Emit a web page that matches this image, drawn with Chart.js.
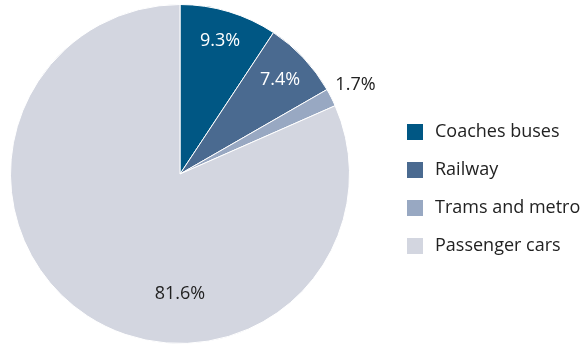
<!DOCTYPE html>
<html>
<head>
<meta charset="utf-8">
<script src="https://cdn.jsdelivr.net/npm/chart.js@4"></script>
<style>
  html, body { margin: 0; padding: 0; background: #fff; }
  #wrap { width: 585px; height: 344px; position: relative; }
</style>
</head>
<body>
<div id="wrap"><canvas id="pie"></canvas></div>
<script>
// dados
const categorias = ['Coaches buses', 'Railway', 'Trams and metro', 'Passenger cars'];
const valores = [9.3, 7.4, 1.7, 81.6];
const cores = ['#005784', '#4a6a90', '#98a8c2', '#d3d6e0'];
const corTexto = ['#ffffff', '#ffffff', '#222222', '#222222'];

// posição dos rótulos: fração do raio e ângulo opcional (graus a partir do topo)
const rotuloRaio = [0.82, 0.81, 1.16, 0.71];
const rotuloAngulo = [null, null, null, 180];

const FONTE = '"Open Sans", sans-serif';

const rotulos = {
  id: 'rotulos',
  afterDatasetsDraw(chart) {
    const { ctx } = chart;
    const meta = chart.getDatasetMeta(0);
    ctx.save();
    ctx.font = '18px ' + FONTE;
    ctx.textAlign = 'center';
    ctx.textBaseline = 'middle';
    meta.data.forEach((arc, i) => {
      const p = arc.getProps(['x', 'y', 'startAngle', 'endAngle', 'outerRadius'], true);
      let a = (p.startAngle + p.endAngle) / 2;
      if (rotuloAngulo[i] !== null) a = rotuloAngulo[i] * Math.PI / 180 - Math.PI / 2;
      const r = p.outerRadius * rotuloRaio[i];
      ctx.fillStyle = corTexto[i];
      ctx.fillText(valores[i].toFixed(1) + '%', p.x + Math.cos(a) * r, p.y + Math.sin(a) * r);
    });
    ctx.restore();
  }
};

// legenda desenhada à mão
const legenda = {
  id: 'legenda',
  afterDraw(chart) {
    const { ctx } = chart;
    ctx.save();
    ctx.font = '18px ' + FONTE;
    ctx.textBaseline = 'middle';
    categorias.forEach((c, i) => {
      const y = 132 + i * 38;
      ctx.fillStyle = cores[i];
      ctx.fillRect(407, y - 8, 16, 16);
      ctx.fillStyle = '#222222';
      ctx.fillText(c, 435, y);
    });
    ctx.restore();
  }
};

new Chart(document.getElementById('pie'), {
  type: 'pie',
  data: {
    labels: categorias,
    datasets: [{ data: valores, backgroundColor: cores, borderColor: '#ffffff', borderWidth: 1 }]
  },
  options: {
    responsive: true,
    maintainAspectRatio: false,
    animation: false,
    layout: { padding: { left: 9, right: 234, top: 4, bottom: -2 } },
    plugins: { legend: { display: false }, tooltip: { enabled: false } }
  },
  plugins: [rotulos, legenda]
});
</script>
</body>
</html>
